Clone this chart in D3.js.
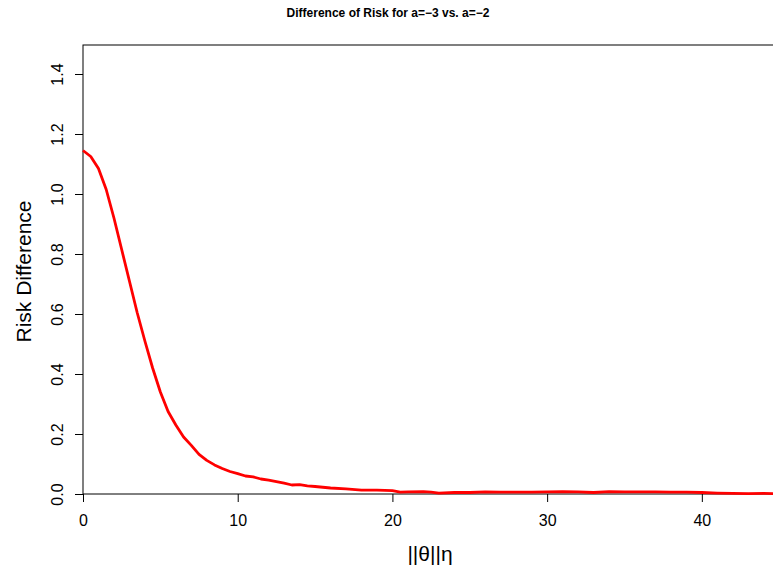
<!DOCTYPE html>
<html>
<head>
<meta charset="utf-8">
<script src="https://cdn.jsdelivr.net/npm/d3@7"></script>
<style>
  body { margin: 0; background: #fff; }
  svg { display: block; font-family: "Liberation Sans", Arial, Helvetica, sans-serif; }
</style>
</head>
<body>
<div id="chart"></div>
<script>
const title = "Difference of Risk for a=\u22123 vs. a=\u22122";
const xLabel = "||\u03b8||\u03b7";
const yLabel = "Risk Difference";

const xTicks = [0, 10, 20, 30, 40];
const yTicks = [0.0, 0.2, 0.4, 0.6, 0.8, 1.0, 1.2, 1.4];

const thetaNorm = [0, 0.5, 1, 1.5, 2, 2.5, 3, 3.5, 4, 4.5, 5, 5.5, 6, 6.5, 7, 7.5, 8, 8.5, 9, 9.5,
    10, 10.5, 11, 11.5, 12, 12.5, 13, 13.5, 14, 14.5, 15, 16, 17, 18, 19, 20, 20.5, 21, 22, 22.5,
    23, 24, 25, 26, 27, 28, 29, 30, 31, 32, 33, 34, 35, 36, 37, 38, 39, 40, 41, 42, 43, 44, 45];
const riskDiff = [1.145, 1.125, 1.085, 1.015, 0.92, 0.815, 0.71, 0.605, 0.51, 0.42, 0.34, 0.275, 0.23, 0.19, 0.162, 0.132, 0.112, 0.097, 0.085, 0.075,
    0.068, 0.06, 0.057, 0.05, 0.046, 0.041, 0.036, 0.03, 0.031, 0.027, 0.025, 0.02, 0.017, 0.013, 0.013, 0.011, 0.006, 0.007, 0.008, 0.006,
    0.003, 0.005, 0.005, 0.007, 0.006, 0.006, 0.006, 0.007, 0.008, 0.007, 0.005, 0.008, 0.007, 0.007, 0.007, 0.006, 0.006, 0.005, 0.003, 0.002, 0.001, 0.002, 0.001];

const width = 773, height = 572;
const plot = { left: 83, top: 45, bottom: 494, right: 773 };

const svg = d3.select("#chart").append("svg")
    .attr("width", width)
    .attr("height", height);

const xScale = d3.scaleLinear()
    .domain([0, 44.6])
    .range([plot.left, plot.right]);

const yScale = d3.scaleLinear()
    .domain([0, 1.4967])
    .range([plot.bottom, plot.top]);

// box (right side runs off the page, as in the original)
svg.append("rect")
    .attr("x", plot.left)
    .attr("y", plot.top)
    .attr("width", plot.right - plot.left + 20)
    .attr("height", plot.bottom - plot.top)
    .attr("fill", "none")
    .attr("stroke", "#000")
    .attr("stroke-width", 1);

svg.append("g")
    .attr("transform", `translate(0,${plot.bottom})`)
    .call(d3.axisBottom(xScale).tickValues(xTicks).tickSize(8).tickPadding(13).tickFormat(d3.format("d")))
    .call(g => g.select(".domain").remove())
    .call(g => g.selectAll("text").attr("font-size", 16).attr("font-family", null).attr("fill", "#000"));

const yAxis = svg.append("g")
    .attr("transform", `translate(${plot.left},0)`)
    .call(d3.axisLeft(yScale).tickValues(yTicks).tickSize(8).tickFormat(d3.format(".1f")))
    .call(g => g.select(".domain").remove());

yAxis.selectAll("text")
    .attr("font-size", 16)
    .attr("font-family", null)
    .attr("fill", "#000")
    .attr("text-anchor", "middle")
    .attr("x", null)
    .attr("transform", "translate(-26,0) rotate(-90)")
    .attr("dy", "0.35em");

const line = d3.line()
    .x((d, i) => xScale(thetaNorm[i]))
    .y(d => yScale(d));

svg.append("path")
    .datum(riskDiff)
    .attr("fill", "none")
    .attr("stroke", "#ff0000")
    .attr("stroke-width", 2.8)
    .attr("stroke-linejoin", "round")
    .attr("d", line);

svg.append("text")
    .attr("x", 388)
    .attr("y", 17)
    .attr("text-anchor", "middle")
    .attr("font-size", 12)
    .attr("font-weight", "bold")
    .text(title);

svg.append("text")
    .attr("x", (plot.left + plot.right) / 2 + 2)
    .attr("y", 561)
    .attr("text-anchor", "middle")
    .attr("font-size", 21)
    .text(xLabel);

svg.append("text")
    .attr("transform", `translate(31,${(plot.top + plot.bottom) / 2 + 2}) rotate(-90)`)
    .attr("text-anchor", "middle")
    .attr("font-size", 21)
    .text(yLabel);
</script>
</body>
</html>
